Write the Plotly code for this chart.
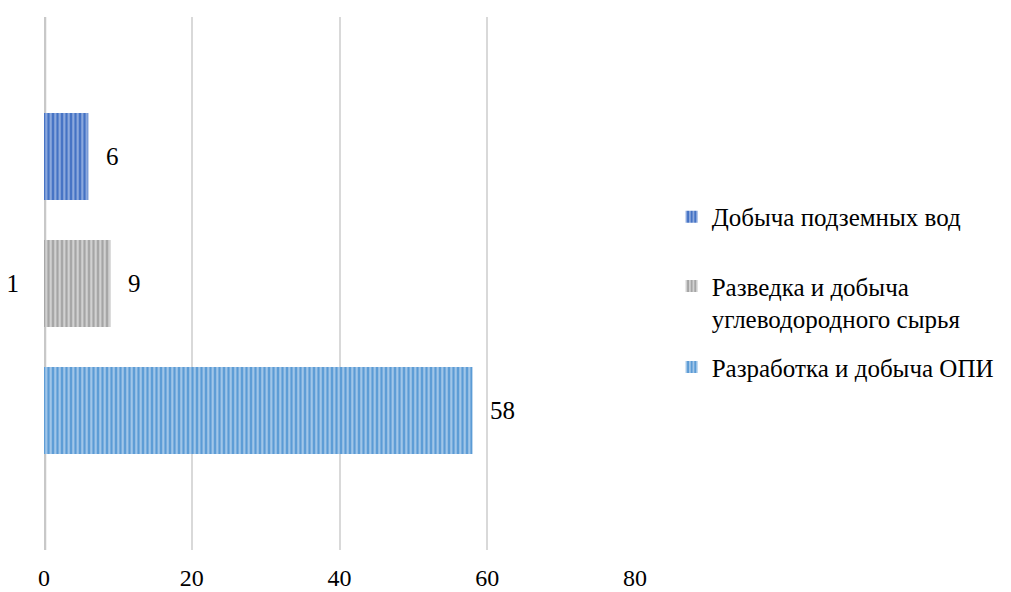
import plotly.graph_objects as go

# chart data
category = ["1"]
series_names = [
    "Разработка и добыча ОПИ",
    "Разведка и добыча<br>углеводородного сырья",
    "Добыча подземных вод",
]
series_values = [58, 9, 6]
x_ticks = [0, 20, 40, 60, 80]

# base / stripe colours for each series
bar_colors = ["#5B9BD5", "#A5A5A5", "#4472C4"]
stripe_colors = ["#A9CBEB", "#D6D6D6", "#93AEE0"]

FONT = "Liberation Serif, Times New Roman, serif"

fig = go.Figure()

legend_ids = ["legend3", "legend2", "legend"]
for name, val, col, stripe, lg in zip(
    series_names, series_values, bar_colors, stripe_colors, legend_ids
):
    fig.add_trace(
        go.Bar(
            y=category,
            x=[val],
            orientation="h",
            name=name,
            legend=lg,
            marker=dict(
                color=col,
                line=dict(width=0),
                pattern=dict(
                    shape="|",
                    fillmode="replace",
                    bgcolor=col,
                    fgcolor=stripe,
                    size=4.5,
                    solidity=0.45,
                ),
            ),
            texttemplate="\u00a0\u00a0\u200a%{x}",
            textposition="outside",
            textfont=dict(family=FONT, size=25, color="#000000"),
            cliponaxis=False,
        )
    )

legend_style = dict(
    font=dict(family=FONT, size=25, color="#000000"),
    bgcolor="rgba(0,0,0,0)",
    valign="top",
    xanchor="left",
    itemwidth=30,
)

# page body adds an 8px offset, so the figure is 8px smaller each way
fig.update_layout(
    width=1003,
    height=584,
    paper_bgcolor="white",
    plot_bgcolor="white",
    margin=dict(l=36, r=376, t=9, b=42, autoexpand=False),
    barmode="group",
    bargap=0.285,
    bargroupgap=0.315,
    showlegend=True,
    legend=dict(x=1.062, y=0.625, yanchor="middle", **legend_style),
    legend2=dict(x=1.062, y=0.465, yanchor="middle", **legend_style),
    legend3=dict(x=1.062, y=0.343, yanchor="middle", **legend_style),
    xaxis=dict(
        range=[0, 80],
        tickvals=x_ticks,
        showgrid=True,
        gridcolor="#D9D9D9",
        gridwidth=1.5,
        zeroline=False,
        showline=False,
        ticks="",
        automargin=False,
        ticklabelstandoff=11,
        tickfont=dict(family=FONT, size=24, color="#000000"),
    ),
    yaxis=dict(
        showgrid=False,
        zeroline=False,
        showline=False,
        ticks="",
        automargin=False,
        ticklabelstandoff=24,
        tickfont=dict(family=FONT, size=25, color="#000000"),
    ),
    shapes=[
        dict(
            type="line",
            xref="x",
            yref="paper",
            x0=0,
            x1=0,
            y0=0,
            y1=1,
            line=dict(color="#C8C8C8", width=4.5),
            layer="below",
        )
    ],
)

fig.write_html("out.html")
